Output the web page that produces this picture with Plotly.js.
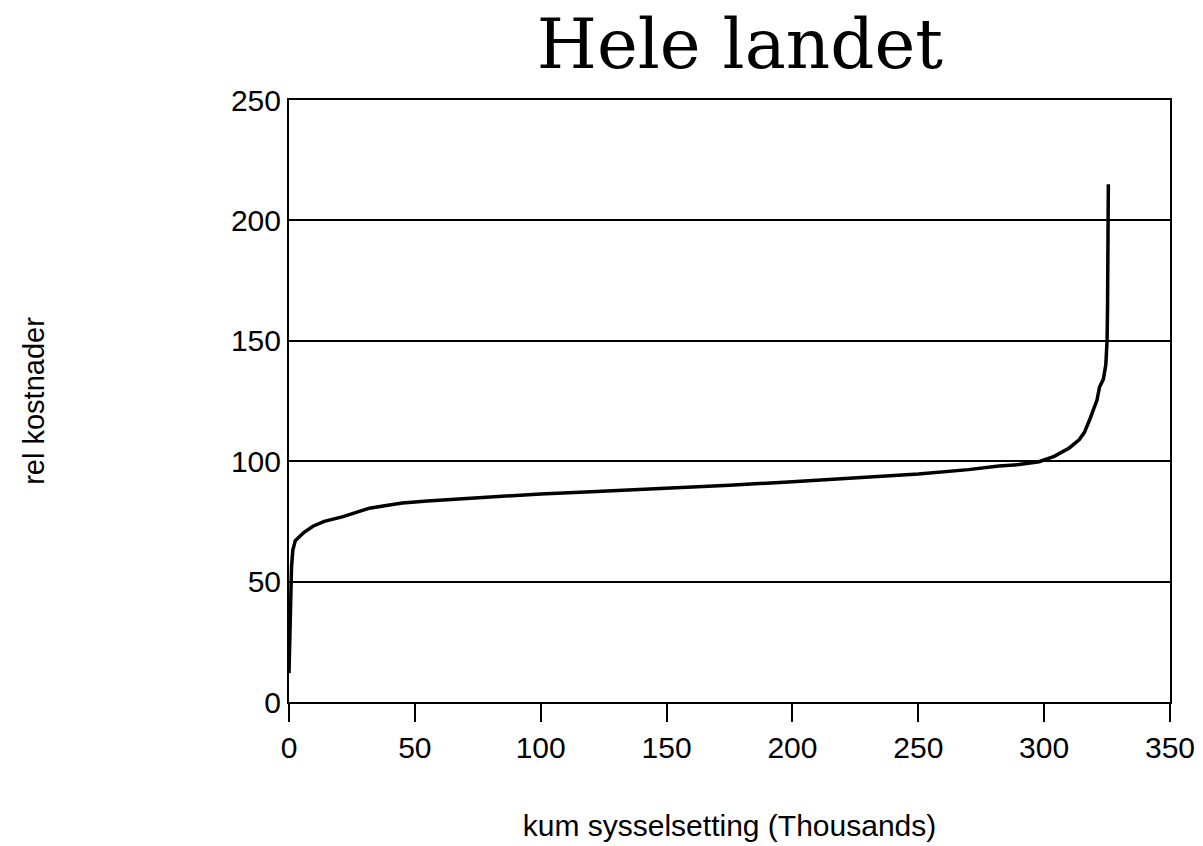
<!DOCTYPE html>
<html>
<head>
<meta charset="utf-8">
<script src="https://cdn.plot.ly/plotly-3.0.1.min.js"></script>
<style>html,body{margin:0;padding:0;background:#fff;}#chart{width:1203px;height:846px;}</style>
</head>
<body>
<div id="chart"></div>
<script>
const kumSysselsetting = [0, 0.3, 0.6, 1, 1.5, 2.5, 4, 6, 9.5, 14, 21.5, 27, 32, 38, 45, 55, 72, 85, 100, 120, 135, 150, 175, 200, 225, 250, 270, 282, 290, 298, 304, 310, 314, 316, 318, 320, 321, 322, 323.5, 324.5, 325, 325.2, 325.4, 325.5];
const relKostnader = [12, 30, 45, 56, 63, 67, 68.5, 70.5, 73, 75, 77, 79, 80.5, 81.5, 82.6, 83.5, 84.7, 85.5, 86.4, 87.3, 88, 88.5, 90, 91.5, 93, 94.7, 96.5, 98, 98.6, 99.8, 102, 105.5, 109, 112, 117, 122, 125.4, 130.8, 134, 140, 150, 165, 195, 215];
const xTicks = [0, 50, 100, 150, 200, 250, 300, 350];
const yTicks = [0, 50, 100, 150, 200, 250];

const trace = {
  x: kumSysselsetting,
  y: relKostnader,
  type: 'scatter',
  mode: 'lines',
  line: {color: '#000', width: 3.5},
  hoverinfo: 'skip'
};

const layout = {
  width: 1203, height: 846,
  margin: {l: 289, r: 33, t: 100, b: 144},
  paper_bgcolor: '#fff', plot_bgcolor: '#fff',
  showlegend: false,
  title: {text: 'Hele landet', font: {family: 'DejaVu Serif', size: 69, color: '#000'}, x: 0.615, xanchor: 'center', y: 0.948, yanchor: 'middle'},
  xaxis: {
    range: [0, 350], tickvals: xTicks, ticktext: xTicks.map(String),
    showgrid: false, zeroline: false,
    showline: true, mirror: true, linecolor: '#000', linewidth: 2,
    ticks: 'outside', ticklen: 18, tickwidth: 2, tickcolor: '#000',
    tickfont: {family: 'Liberation Sans', size: 30, color: '#000'},
    title: {text: 'kum sysselsetting (Thousands)', font: {family: 'Liberation Sans', size: 30, color: '#000'}, standoff: 52}
  },
  yaxis: {
    range: [0, 250], tickvals: yTicks, ticktext: yTicks.map(String),
    showgrid: true, gridcolor: '#000', gridwidth: 2, zeroline: false,
    showline: true, mirror: true, linecolor: '#000', linewidth: 2,
    ticks: '', ticklabelstandoff: 0,
    tickfont: {family: 'Liberation Sans', size: 30, color: '#000'},
    title: {text: 'rel kostnader', font: {family: 'Liberation Sans', size: 29, color: '#000'}, standoff: 178}
  }
};

Plotly.newPlot('chart', [trace], layout, {displayModeBar: false, staticPlot: true});
</script>
</body>
</html>
